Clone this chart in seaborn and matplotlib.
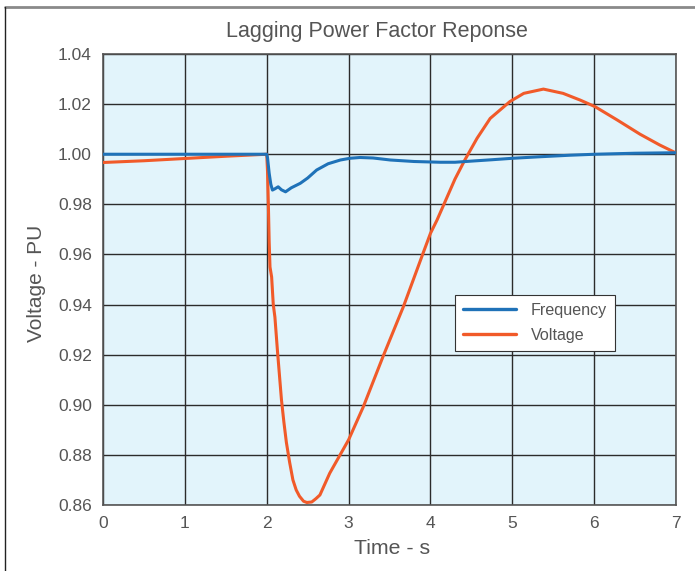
import numpy as np
import pandas as pd
import matplotlib
matplotlib.use("Agg")
import matplotlib.pyplot as plt
import seaborn as sns
from matplotlib.lines import Line2D

# Data
freq_t = [0.0, 1.0, 2.0, 2.01, 2.03, 2.05, 2.07, 2.10, 2.14, 2.18, 2.23, 2.30, 2.41, 2.50,
          2.61, 2.75, 2.90, 3.02, 3.14, 3.30, 3.51, 3.80, 4.12, 4.30, 4.52, 4.75, 5.01, 5.34,
          5.70, 6.01, 6.50, 7.0]
freq_v = [1.0, 1.0, 1.0, 0.9985, 0.9924, 0.9880, 0.9857, 0.9862, 0.9870, 0.9858, 0.9850, 0.9866,
          0.9884, 0.9905, 0.9937, 0.9962, 0.9977, 0.9984, 0.9987, 0.9985, 0.9977, 0.9971, 0.9968,
          0.9968, 0.9973, 0.9978, 0.9984, 0.9990, 0.9996, 1.0000, 1.0004, 1.0006]

volt_t = [0.0, 0.5, 1.0, 1.5, 2.0, 2.01, 2.02, 2.03, 2.04, 2.06, 2.08, 2.10, 2.13, 2.15, 2.18,
          2.21, 2.24, 2.28, 2.32, 2.36, 2.40, 2.45, 2.49, 2.55, 2.60, 2.65, 2.77, 3.00,
          3.18, 3.42, 3.67, 3.91, 4.00, 4.08, 4.30, 4.42, 4.57, 4.73, 4.97, 5.14, 5.38, 5.62,
          5.83, 6.01, 6.28, 6.56, 6.80, 7.0]
volt_v = [0.9967, 0.9974, 0.9983, 0.9992, 1.0, 0.993, 0.980, 0.965, 0.955, 0.951, 0.940, 0.935,
          0.922, 0.914, 0.902, 0.893, 0.885, 0.877, 0.870, 0.866, 0.8635, 0.8615, 0.861, 0.8612,
          0.8625, 0.8640, 0.8727, 0.886, 0.8992, 0.9192, 0.9392, 0.9605, 0.9684, 0.9737,
          0.9901, 0.9977, 1.0064, 1.0143, 1.0210, 1.0243, 1.0260, 1.0243, 1.0216, 1.0190,
          1.0137, 1.0080, 1.0037, 1.0005]

x_ticks = [0, 1, 2, 3, 4, 5, 6, 7]
y_ticks = [0.86, 0.88, 0.90, 0.92, 0.94, 0.96, 0.98, 1.00, 1.02, 1.04]

df = pd.concat([
    pd.DataFrame({"Time": freq_t, "Value": freq_v, "Series": "Frequency"}),
    pd.DataFrame({"Time": volt_t, "Value": volt_v, "Series": "Voltage"}),
])

sns.set_style("white")
plt.rcParams['font.family'] = ['Liberation Sans', 'DejaVu Sans']
plt.rcParams['lines.solid_joinstyle'] = 'round'

fig = plt.figure(figsize=(6.95, 5.71), dpi=100)
ax = fig.add_axes([0.1482, 0.1156, 0.8245, 0.7898])
ax.set_facecolor("#e2f4fb")

palette = {"Frequency": "#1f72b8", "Voltage": "#f15a29"}
sns.lineplot(data=df[df.Series == "Voltage"], x="Time", y="Value", color=palette["Voltage"],
             lw=2.2, ax=ax, legend=False, sort=False, zorder=3)
sns.lineplot(data=df[df.Series == "Frequency"], x="Time", y="Value", color=palette["Frequency"],
             lw=2.2, ax=ax, legend=False, sort=False, zorder=4)

ax.set_xlim(0, 7)
ax.set_ylim(0.86, 1.04)
ax.set_xticks(x_ticks)
ax.set_yticks(y_ticks)
ax.set_xticklabels([str(t) for t in x_ticks])
ax.set_yticklabels([f"{v:.2f}" for v in y_ticks])
ax.grid(True, color="#2b2b2b", lw=1.0)
ax.set_axisbelow(True)
ax.tick_params(length=0, pad=8, labelsize=12.5, colors="#555555")
for s in ax.spines.values():
    s.set_color("#555555")
    s.set_linewidth(1.2)
ax.set_xlabel("")
ax.set_ylabel("")

fig.text(377 / 695, 1 - 32 / 571, "Lagging Power Factor Reponse", ha="center", va="center",
         fontsize=15.5, color="#555555")
fig.text(392 / 695, 1 - 549 / 571, "Time - s", ha="center", va="center",
         fontsize=15.3, color="#555555")
fig.text(37 / 695, 1 - 283 / 571, "Voltage - PU", ha="center", va="center", rotation=90,
         fontsize=15, color="#555555")

handles = [Line2D([0], [0], color=palette["Frequency"], lw=2.4),
           Line2D([0], [0], color=palette["Voltage"], lw=2.4)]
leg = ax.legend(handles, ["Frequency", "Voltage"], loc="upper left",
                bbox_to_anchor=(352 / 573, (505 - 295) / 451), fontsize=11.6, frameon=True,
                fancybox=False, handlelength=3.3, borderpad=0.5, labelspacing=0.62,
                handletextpad=0.9, framealpha=1, borderaxespad=0)
leg.get_frame().set_edgecolor("#333333")
leg.get_frame().set_linewidth(0.8)
for t in leg.get_texts():
    t.set_color("#555555")

# figure frame lines (top and left)
fig.add_artist(Line2D([5 / 695, 1.0], [1 - 7 / 571, 1 - 7 / 571], color="#8a8a8a", lw=2,
                      transform=fig.transFigure))
fig.add_artist(Line2D([5 / 695, 5 / 695], [0, 1 - 7 / 571], color="#222222", lw=1,
                      transform=fig.transFigure))

fig.savefig("out.png", dpi=100)
